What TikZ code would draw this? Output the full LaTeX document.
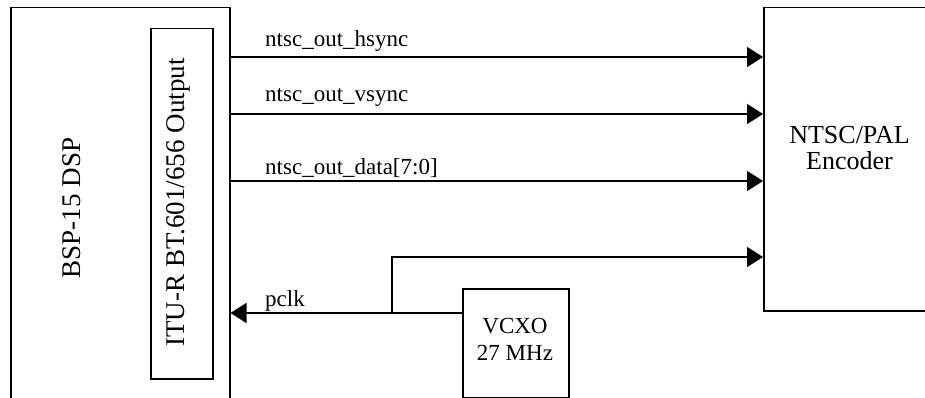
\documentclass[tikz,border=0pt]{standalone}
\usepackage{fontspec}
\setmainfont{Liberation Serif}
\usetikzlibrary{arrows.meta}
\begin{document}
\begin{tikzpicture}[x=1pt,y=-1pt,
 box/.style={draw, line width=1.5pt, inner sep=0pt, anchor=north west},
 sig/.style={line width=1.5pt, -{Triangle[length=16pt,width=20pt]}},
 lbl/.style={font=\fontsize{23}{26}\selectfont, inner sep=0pt, anchor=base west},
 vlbl/.style={rotate=90, anchor=base, inner sep=0pt, font=\fontsize{27}{30}\selectfont},
]
\useasboundingbox (0,0) rectangle (925,398);
\clip (0,0) rectangle (925,398);
\node[box, minimum width=219pt, minimum height=420pt] (bsp) at (10,7) {};
\node[vlbl] (bsplbl) at (80,208) {BSP-15 DSP};
\node[box, minimum width=62pt, minimum height=350pt] (itu) at (150,28) {};
\node[vlbl] (itulbl) at (184,202.5) {ITU-R BT.601/656 Output};
\node[box, minimum width=200pt, minimum height=303pt] (enc) at (763,7) {};
\node[align=center, font=\fontsize{26}{26}\selectfont, inner sep=0pt, anchor=base] (enclbl) at (849.5,170) {NTSC/PAL\\Encoder};
\node[box, minimum width=106pt, minimum height=108.5pt] (vcxo) at (462,288) {};
\node[align=center, font=\fontsize{23}{26.5}\selectfont, inner sep=0pt, anchor=base] (vcxolbl) at (515,360) {VCXO\\27 MHz};

\draw[sig] (bsp.east |- 0,57) -- (enc.west |- 0,57);
\draw[sig] (bsp.east |- 0,114) -- (enc.west |- 0,114);
\draw[sig] (bsp.east |- 0,181) -- (enc.west |- 0,181);
\node[lbl] (l1) at (265,47) {ntsc\_out\_hsync};
\node[lbl] (l2) at (265,102) {ntsc\_out\_vsync};
\node[lbl] (l3) at (265,175) {ntsc\_out\_data[7:0]};

\draw[sig] (vcxo.west |- 0,313) -- (bsp.east |- 0,313);
\coordinate (br) at (392,313);
\draw[sig] (br) |- (enc.west |- 0,257);
\node[lbl] (l4) at (265,306) {pclk};
\end{tikzpicture}
\end{document}
